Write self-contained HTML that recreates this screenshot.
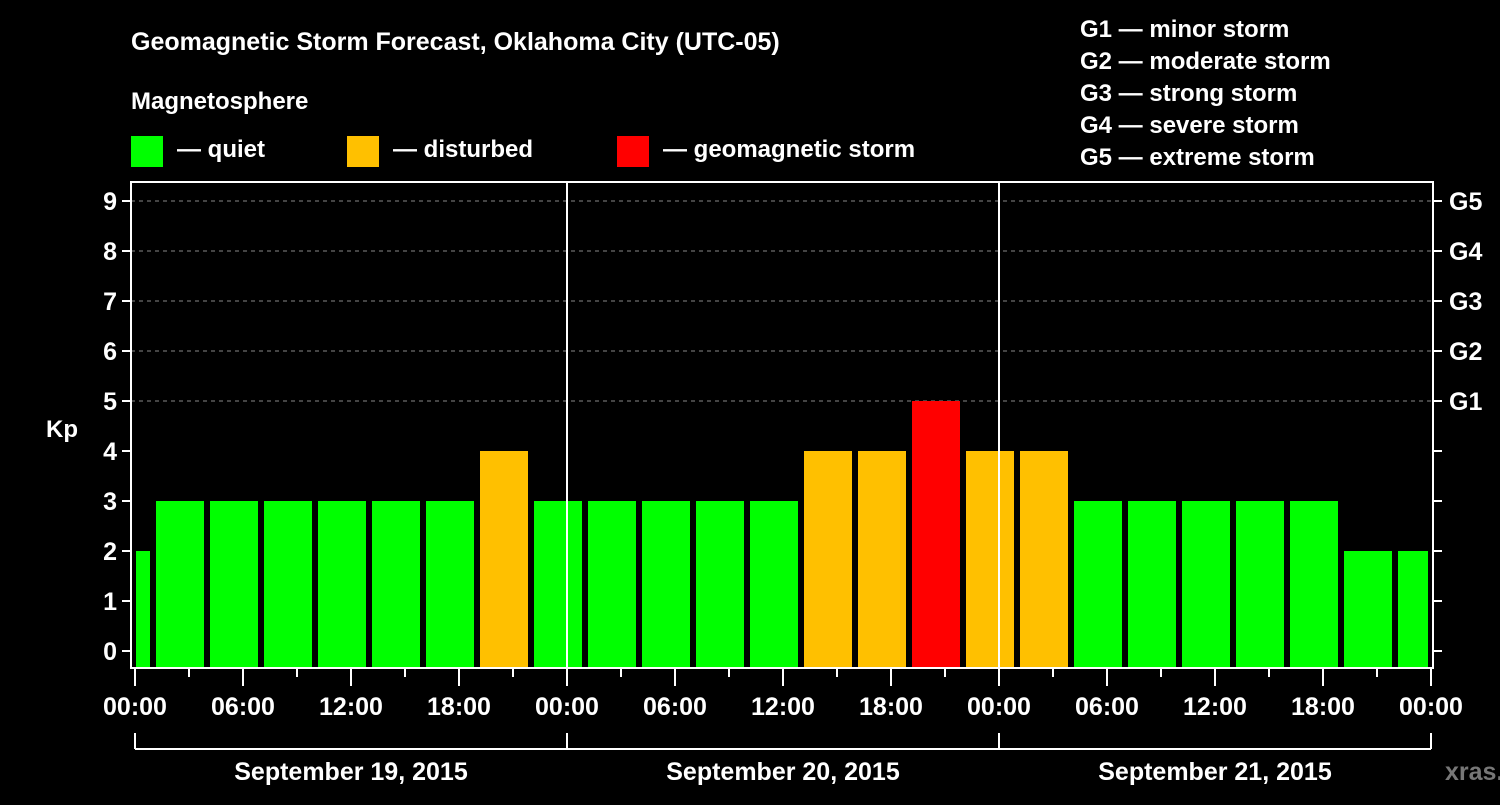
<!DOCTYPE html>
<html><head><meta charset="utf-8"><style>
body{margin:0;background:#000;width:1500px;height:800px;overflow:hidden}
svg text{font-family:"Liberation Sans",Arial,sans-serif;font-weight:bold;fill:#fff}
</style></head><body>
<svg id="c" width="1500" height="800">
<text x="131" y="50" font-size="25">Geomagnetic Storm Forecast, Oklahoma City (UTC-05)</text>
<text x="131" y="109" font-size="24">Magnetosphere</text>
<rect x="131" y="136" width="32" height="31" fill="#00ff00"/>
<text x="177" y="157" font-size="24">— quiet</text>
<rect x="347" y="136" width="32" height="31" fill="#ffc000"/>
<text x="393" y="157" font-size="24">— disturbed</text>
<rect x="617" y="136" width="32" height="31" fill="#ff0000"/>
<text x="663" y="157" font-size="24">— geomagnetic storm</text>
<g font-size="24">
<text x="1080" y="37">G1 — minor storm</text>
<text x="1080" y="69">G2 — moderate storm</text>
<text x="1080" y="101">G3 — strong storm</text>
<text x="1080" y="133">G4 — severe storm</text>
<text x="1080" y="165">G5 — extreme storm</text>
</g>
<text x="62" y="437" font-size="24" text-anchor="middle">Kp</text>
<g id="plot"></g>
<text x="1445" y="780" font-size="25" fill="#777" style="fill:#777">xras.ru</text>
</svg>
<script>
const kpValues=[2,3,3,3,3,3,3,4,3,3,3,3,3,4,4,5,4,4,3,3,3,3,3,2,2];
const blockStartHour=-2;
const blockHours=3;
const totalHours=72;
const yTicks=[0,1,2,3,4,5,6,7,8,9];
const gLabels=["G1","G2","G3","G4","G5"];
const gLevels=[5,6,7,8,9];
const xTickLabels=["00:00","06:00","12:00","18:00","00:00","06:00","12:00","18:00","00:00","06:00","12:00","18:00","00:00"];
const dayLabels=["September 19, 2015","September 20, 2015","September 21, 2015"];

const X0=135,X1=1431,L=131,R=1433,T=182,B=668;
const xs=h=>X0+(h/totalHours)*(X1-X0);
const ys=v=>651-v*50;
const NS="http://www.w3.org/2000/svg";
const g=document.getElementById('plot');
function mk(t,a){const e=document.createElementNS(NS,t);for(const k in a)e.setAttribute(k,a[k]);g.appendChild(e);return e;}

gLevels.forEach((v,i)=>{
 const l=mk('line',{x1:L,x2:R,y1:ys(v),y2:ys(v),stroke:'#888','stroke-width':1,'stroke-dasharray':'4,4'});
 
 
});
kpValues.forEach((v,i)=>{
 let h0=blockStartHour+i*blockHours,h1=h0+blockHours;
 let a=xs(h0)+3,b=xs(h1)-3;
 a=Math.max(a,xs(0)+1);b=Math.min(b,xs(totalHours)-3);
 const col=v>=5?'#ff0000':(v>=4?'#ffc000':'#00ff00');
 const r=mk('rect',{x:a,y:ys(v),width:b-a,height:B-ys(v),fill:col});
 
 
});
[1,2].forEach(d=>{
 const l=mk('line',{x1:xs(d*24),x2:xs(d*24),y1:T,y2:B,stroke:'#fff','stroke-width':2});
 
 
});
const fr=mk('rect',{x:L,y:T,width:R-L,height:B-T,fill:'none',stroke:'#fff','stroke-width':2});


yTicks.forEach(v=>{
 mk('line',{x1:L-9,x2:L,y1:ys(v),y2:ys(v),stroke:'#fff','stroke-width':2});
 mk('line',{x1:R,x2:R+9,y1:ys(v),y2:ys(v),stroke:'#fff','stroke-width':2});
 const t=mk('text',{x:117,y:ys(v)+9,'font-size':25,'text-anchor':'end'});t.textContent=v;
 
 
});
gLevels.forEach((v,i)=>{
 const t=mk('text',{x:1449,y:ys(v)+9,'font-size':25});t.textContent=gLabels[i];
 
 
});
for(let h=0;h<=totalHours;h+=3){
 const long=h%6===0;
 mk('line',{x1:xs(h),x2:xs(h),y1:B,y2:long?686:677,stroke:'#fff','stroke-width':2});
}
xTickLabels.forEach((s,i)=>{
 const t=mk('text',{x:xs(i*6),y:715,'font-size':25,'text-anchor':'middle'});t.textContent=s;
 
 
});
mk('line',{x1:X0,x2:X1,y1:749,y2:749,stroke:'#fff','stroke-width':2});
for(let d=0;d<=3;d++)mk('line',{x1:xs(d*24),x2:xs(d*24),y1:733,y2:749,stroke:'#fff','stroke-width':2});
dayLabels.forEach((s,i)=>{
 const t=mk('text',{x:xs(i*24+12),y:780,'font-size':25,'text-anchor':'middle'});t.textContent=s;
 
 
});
</script>
</body></html>
